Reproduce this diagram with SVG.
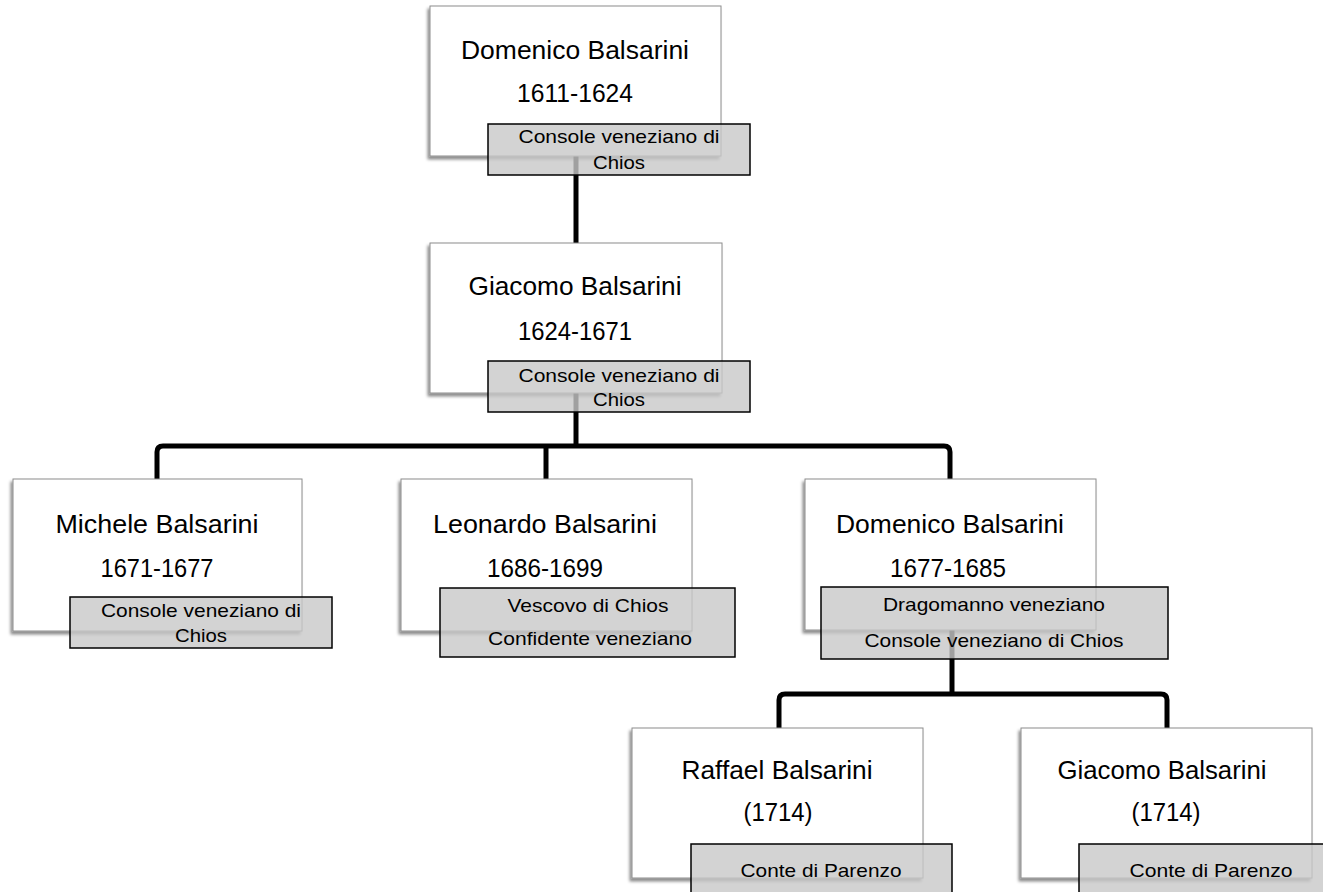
<svg xmlns="http://www.w3.org/2000/svg" width="1323" height="892" viewBox="0 0 1323 892">
<defs>
<filter id="sh" x="-10%" y="-10%" width="120%" height="125%">
<feDropShadow dx="-2" dy="3" stdDeviation="1.5" flood-color="#000" flood-opacity="0.45"/>
</filter>
<style>
.box{fill:#fff;stroke:#8c8c8c;stroke-width:1;filter:url(#sh)}
.lab{fill:rgb(200,200,200);fill-opacity:0.8;stroke:#000;stroke-width:1.5}
.nm{font-family:"Liberation Sans",Arial,sans-serif;font-size:25px;fill:#000;text-anchor:middle}
.lt{font-family:"Liberation Sans",Arial,sans-serif;font-size:19px;fill:#000;text-anchor:middle}
.con{fill:none;stroke:#000;stroke-width:5;stroke-linejoin:round}
</style>
</defs>
<rect width="1323" height="892" fill="#fff"/>
<g id="connectors">
<path class="con" d="M576,150 V243"/>
<path class="con" d="M576,390 V446"/>
<path class="con" d="M157,479 V452 Q157,446 163,446 H944 Q950,446 950,452 V479"/>
<path class="con" d="M546,446 V479"/>
<path class="con" d="M952,625 V694"/>
<path class="con" d="M779,728 V700 Q779,694 785,694 H1161 Q1167,694 1167,700 V728"/>
</g>
<g id="n1">
<rect class="box" x="430" y="6" width="291" height="150"/>
<text class="nm" x="575" y="59" textLength="228" lengthAdjust="spacingAndGlyphs">Domenico Balsarini</text>
<text class="nm" x="575" y="102" textLength="116" lengthAdjust="spacingAndGlyphs">1611-1624</text>
<rect class="lab" x="488" y="124" width="262" height="51"/>
<text class="lt" x="619" y="143" textLength="201" lengthAdjust="spacingAndGlyphs">Console veneziano di</text>
<text class="lt" x="619" y="169" textLength="52" lengthAdjust="spacingAndGlyphs">Chios</text>
</g>
<g id="n2">
<rect class="box" x="430" y="243" width="292" height="150"/>
<text class="nm" x="575" y="295" textLength="213" lengthAdjust="spacingAndGlyphs">Giacomo Balsarini</text>
<text class="nm" x="575" y="340" textLength="114" lengthAdjust="spacingAndGlyphs">1624-1671</text>
<rect class="lab" x="488" y="361" width="262" height="51"/>
<text class="lt" x="619" y="382" textLength="201" lengthAdjust="spacingAndGlyphs">Console veneziano di</text>
<text class="lt" x="619" y="406" textLength="52" lengthAdjust="spacingAndGlyphs">Chios</text>
</g>
<g id="n3">
<rect class="box" x="13" y="479" width="289" height="152"/>
<text class="nm" x="157" y="533" textLength="203" lengthAdjust="spacingAndGlyphs">Michele Balsarini</text>
<text class="nm" x="157" y="577" textLength="113" lengthAdjust="spacingAndGlyphs">1671-1677</text>
<rect class="lab" x="70" y="597" width="262" height="51"/>
<text class="lt" x="201" y="617" textLength="200" lengthAdjust="spacingAndGlyphs">Console veneziano di</text>
<text class="lt" x="201" y="642" textLength="52" lengthAdjust="spacingAndGlyphs">Chios</text>
</g>
<g id="n4">
<rect class="box" x="401" y="479" width="291" height="152"/>
<text class="nm" x="545" y="533" textLength="224" lengthAdjust="spacingAndGlyphs">Leonardo Balsarini</text>
<text class="nm" x="545" y="577" textLength="116" lengthAdjust="spacingAndGlyphs">1686-1699</text>
<rect class="lab" x="440" y="588" width="295" height="69"/>
<text class="lt" x="588" y="612" textLength="161" lengthAdjust="spacingAndGlyphs">Vescovo di Chios</text>
<text class="lt" x="590" y="645" textLength="204" lengthAdjust="spacingAndGlyphs">Confidente veneziano</text>
</g>
<g id="n5">
<rect class="box" x="805" y="479" width="291" height="151"/>
<text class="nm" x="950" y="533" textLength="228" lengthAdjust="spacingAndGlyphs">Domenico Balsarini</text>
<text class="nm" x="948" y="577" textLength="116" lengthAdjust="spacingAndGlyphs">1677-1685</text>
<rect class="lab" x="821" y="587" width="347" height="72"/>
<text class="lt" x="994" y="611" textLength="222" lengthAdjust="spacingAndGlyphs">Dragomanno veneziano</text>
<text class="lt" x="994" y="647" textLength="259" lengthAdjust="spacingAndGlyphs">Console veneziano di Chios</text>
</g>
<g id="n6">
<rect class="box" x="632" y="728" width="291" height="150"/>
<text class="nm" x="777" y="779" textLength="191" lengthAdjust="spacingAndGlyphs">Raffael Balsarini</text>
<text class="nm" x="778" y="821" textLength="69" lengthAdjust="spacingAndGlyphs">(1714)</text>
<rect class="lab" x="691" y="844" width="261" height="60"/>
<text class="lt" x="821" y="877" textLength="161" lengthAdjust="spacingAndGlyphs">Conte di Parenzo</text>
</g>
<g id="n7">
<rect class="box" x="1021" y="728" width="291" height="150"/>
<text class="nm" x="1162" y="779" textLength="209" lengthAdjust="spacingAndGlyphs">Giacomo Balsarini</text>
<text class="nm" x="1166" y="821" textLength="69" lengthAdjust="spacingAndGlyphs">(1714)</text>
<rect class="lab" x="1079" y="844" width="261" height="60"/>
<text class="lt" x="1211" y="877" textLength="163" lengthAdjust="spacingAndGlyphs">Conte di Parenzo</text>
</g>
</svg>
